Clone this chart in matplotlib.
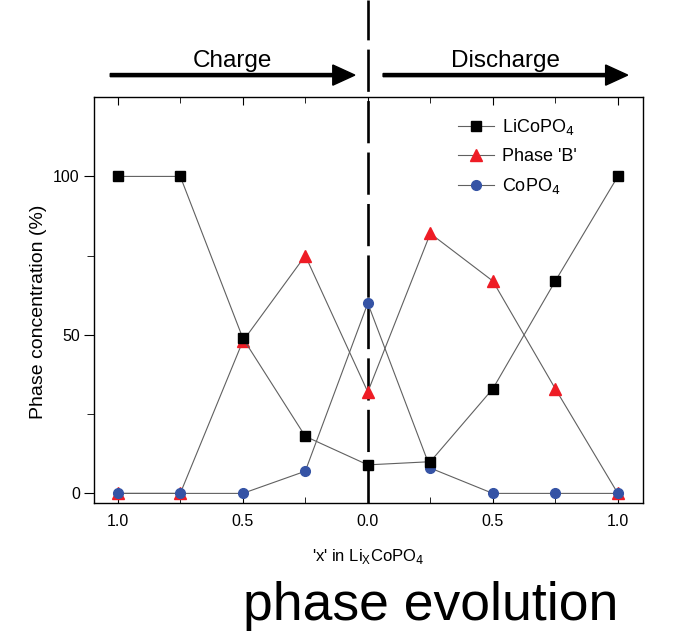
import matplotlib.pyplot as plt
from matplotlib.patches import FancyArrow
from matplotlib.ticker import FixedLocator

plt.rcParams['font.family'] = ['Liberation Sans', 'DejaVu Sans']

# data
x_labels = ['1.0', '0.5', '0.0', '0.5', '1.0']
steps = [0, 1, 2, 3, 4, 5, 6, 7, 8]
licopo4 = [100, 100, 49, 18, 9, 10, 33, 67, 100]
phase_b = [0, 0, 48, 75, 32, 82, 67, 33, 0]
copo4 = [0, 0, 0, 7, 60, 8, 0, 0, 0]

fig = plt.figure(figsize=(6.89, 6.31), dpi=100)
ax = fig.add_axes([0.136, 0.203, 0.797, 0.643])

line_c = '#606060'
ax.plot(steps, licopo4, color=line_c, lw=0.8, marker='s', ms=7, mfc='black', mec='black',
        label='LiCoPO$_4$', zorder=4)
ax.plot(steps, phase_b, color=line_c, lw=0.8, marker='^', ms=8, mfc='#ee1c25', mec='#ee1c25',
        label="Phase 'B'", zorder=3)
ax.plot(steps, copo4, color=line_c, lw=0.8, marker='o', ms=7, mfc='#3553a5', mec='#3553a5',
        label='CoPO$_4$', zorder=3)

ax.set_xlim(-0.385, 8.4)
ax.set_ylim(-3, 125)

ax.xaxis.set_major_locator(FixedLocator([0, 2, 4, 6, 8]))
ax.xaxis.set_minor_locator(FixedLocator([1, 3, 5, 7]))
ax.set_xticklabels(x_labels)
ax.yaxis.set_major_locator(FixedLocator([0, 50, 100]))
ax.yaxis.set_minor_locator(FixedLocator([25, 75]))
ax.tick_params(axis='x', which='both', direction='in', top=True, labelsize=11.5, pad=8)
ax.tick_params(axis='x', which='major', length=6)
ax.tick_params(axis='x', which='minor', length=4)
ax.tick_params(axis='y', which='both', direction='out', labelsize=11.5, pad=3)
ax.tick_params(axis='y', which='major', length=7)
ax.tick_params(axis='y', which='minor', length=5)
for s in ax.spines.values():
    s.set_linewidth(1.0)

ax.set_ylabel('Phase concentration (%)', fontsize=14)
ax.yaxis.set_label_coords(-0.085, 0.47)
ax.set_xlabel("'x' in Li$_\\mathregular{X}$CoPO$_4$", fontsize=12, labelpad=13)

# dashed divider running up through the arrows
ax.axvline(4, ymin=0, ymax=1.24, color='black', lw=1.9, dashes=(16, 3.5),
           clip_on=False, zorder=2)

ax.legend(loc='upper left', bbox_to_anchor=(0.664, 0.95), frameon=False,
          fontsize=13, handlelength=1.95, handletextpad=0.45, labelspacing=0.6,
          borderpad=0, borderaxespad=0)

# charge / discharge arrows
for x0, x1, xt, label in [(0.160, 0.515, 0.338, 'Charge'), (0.556, 0.911, 0.733, 'Discharge')]:
    fig.patches.append(FancyArrow(
        x0, 0.881, x1 - x0 - 0.032, 0, width=0.005, head_width=0.032, head_length=0.032,
        length_includes_head=False, color='black', transform=fig.transFigure))
    fig.text(xt, 0.894, label, fontsize=17.5, ha='center', va='baseline')

fig.text(0.625, 0.0174, 'phase evolution', fontsize=38.5, ha='center', va='baseline')

fig.savefig('out.png', dpi=100)
